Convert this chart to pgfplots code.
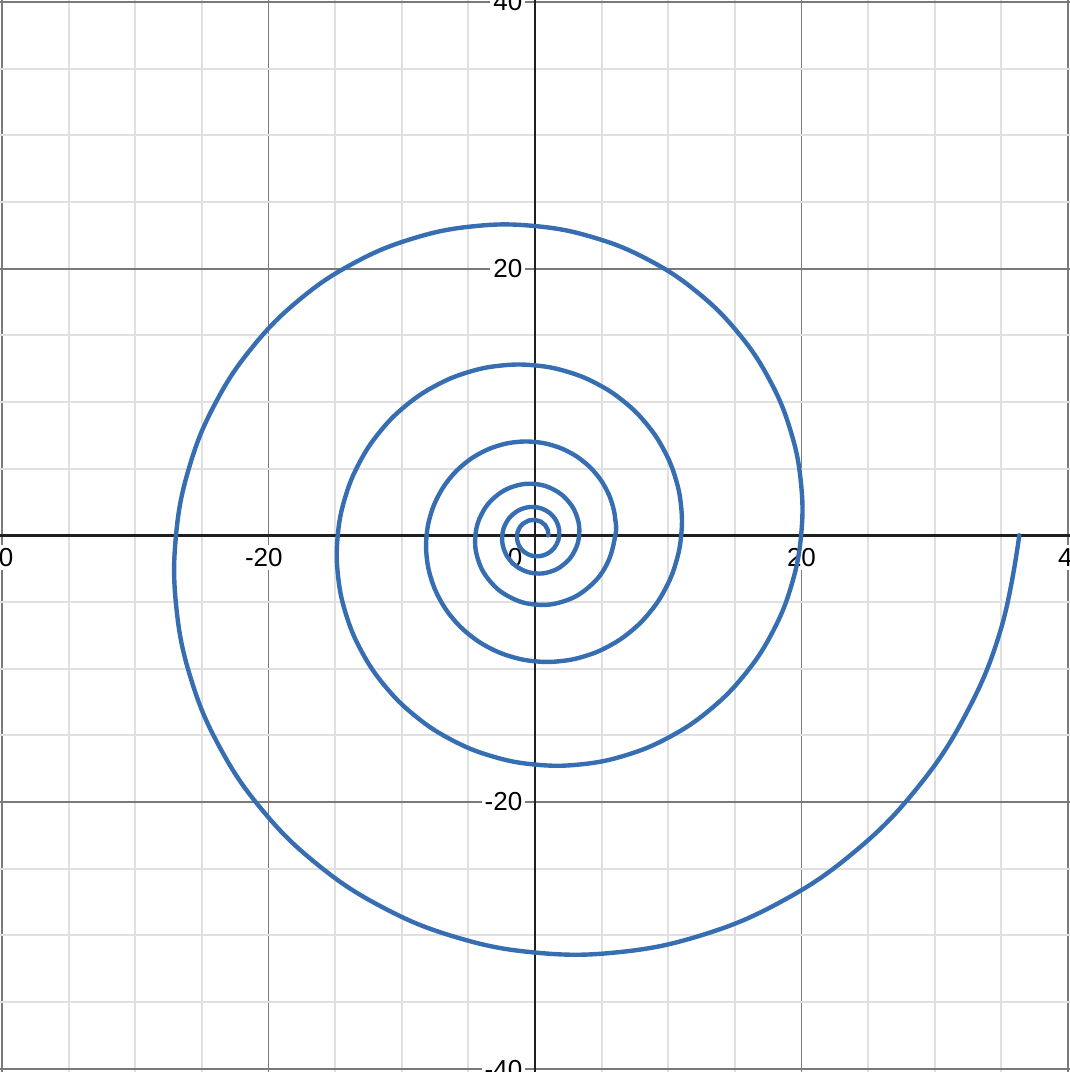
\documentclass[border=0pt]{standalone}
\usepackage{fontspec}
\setmainfont{Liberation Sans}
\usepackage{pgfplots}
\pgfplotsset{compat=1.18}
\definecolor{spiral}{RGB}{55,110,178}
\tikzset{lab/.style={fill=white, inner sep=1.5pt, font=\fontsize{13}{15}\selectfont}}
\begin{document}
\begin{tikzpicture}
\begin{axis}[
  scale only axis, width=535pt, height=536pt,
  xmin=-40.15, xmax=40.15, ymin=-40.25, ymax=40.15,
  axis lines=middle,
  axis line style={-, line width=1.4pt, black!88},
  xtick={-40,-20,0,20,40}, ytick={-40,-20,0,20,40},
  minor tick num=3,
  xticklabels={}, yticklabels={},
  major tick length=0pt, minor tick length=0pt,
  grid=both,
  major grid style={line width=0.9pt, black!52},
  minor grid style={line width=0.9pt, black!12},
  clip=false,
]
\coordinate (SW) at (rel axis cs:0,0);
\coordinate (NE) at (rel axis cs:1,1);
\node[lab, anchor=center] at (axis cs:-20.35,-1.65) {-20};
\node[lab, anchor=center] at (axis cs:20,-1.65) {20};
\node[lab, anchor=east] at (axis cs:-38.9,-1.65) {-40};
\node[lab, anchor=west] at (axis cs:39.0,-1.65) {40};
\node[lab, anchor=east] at (axis cs:-0.7,20) {20};
\node[lab, anchor=east] at (axis cs:-0.7,-20) {-20};
\node[lab, anchor=east] at (axis cs:-0.7,40.05) {40};
\node[lab, anchor=east] at (axis cs:-0.7,-40.05) {-40};
\node[lab, anchor=east] at (axis cs:-0.7,-1.65) {0};
\addplot[color=spiral, line width=2.2pt, line cap=round, line join=round, smooth, tension=0.7] coordinates {
(1,0) (0.959,0.397) (0.762,0.762) (0.428,1.034) (0,1.1615) (-0.461,1.114) (-0.885,0.885) (-1.201,0.497)
(-1.349,0) (-1.294,-0.536) (-1.028,-1.028) (-0.578,-1.395) (0,-1.567) (0.623,-1.503) (1.194,-1.194) (1.620,-0.671)
(1.820,0) (1.746,0.723) (1.387,1.387) (0.779,1.881) (0,2.114) (-0.840,2.028) (-1.611,1.611) (-2.185,0.905)
(-2.455,0) (-2.355,-0.975) (-1.871,-1.871) (-1.051,-2.538) (0,-2.852) (1.133,-2.735) (2.173,-2.173) (2.948,-1.221)
(3.312,0) (3.177,1.316) (2.524,2.524) (1.418,3.424) (0,3.847) (-1.528,3.690) (-2.932,2.932) (-3.977,1.647)
(-4.469,0) (-4.286,-1.775) (-3.406,-3.406) (-1.913,-4.619) (0,-5.190) (2.062,-4.978) (3.955,-3.955) (5.365,-2.222)
(6.029,0) (6.025,1.198) (5.782,2.395) (5.302,3.543) (4.594,4.594) (3.678,5.504) (2.581,6.232) (1.341,6.740)
(0,7.002) (-1.392,6.998) (-2.782,6.716) (-4.115,6.158) (-5.336,5.336) (-6.393,4.272) (-7.238,2.998) (-7.829,1.557)
(-8.133,0) (-8.128,-1.617) (-7.801,-3.231) (-7.153,-4.779) (-6.198,-6.198) (-4.962,-7.426) (-3.482,-8.407) (-1.809,-9.093)
(0,-9.447) (1.878,-9.440) (3.753,-9.060) (5.551,-8.308) (7.199,-7.199) (8.625,-5.763) (9.765,-4.045) (10.562,-2.101)
(10.972,0) (10.965,2.181) (10.524,4.359) (9.650,6.448) (8.362,8.362) (6.694,10.018) (4.698,11.342) (2.440,12.268)
(0,12.744) (-2.533,12.735) (-5.063,12.223) (-7.489,11.208) (-9.712,9.712) (-11.636,7.775) (-13.173,5.456) (-14.249,2.834)
(-14.802,0) (-14.792,-2.942) (-14.197,-5.881) (-13.018,-8.699) (-11.280,-11.280) (-9.030,-13.515) (-6.338,-15.301) (-3.292,-16.550)
(0,-17.193) (3.418,-17.181) (6.830,-16.490) (10.103,-15.121) (13.102,-13.102) (15.698,-10.489) (17.772,-7.361) (19.223,-3.824)
(19.970,0) (19.956,3.969) (19.153,7.933) (17.563,11.735) (15.218,15.218) (12.183,18.233) (8.550,20.642) (4.441,22.327)
(0,23.195) (-4.611,23.179) (-9.215,22.246) (-13.630,20.399) (-17.676,17.676) (-21.177,14.150) (-23.976,9.931) (-25.933,5.158)
(-26.941,0) (-26.922,-5.355) (-25.839,-10.703) (-23.694,-15.832) (-20.531,-20.531) (-16.436,-24.598) (-11.535,-27.847) (-5.991,-30.121)
(0,-31.291) (6.220,-31.270) (12.431,-30.012) (18.388,-27.520) (23.846,-23.846) (28.570,-19.090) (32.345,-13.397) (34.986,-6.959)
(36.345,0)
};
\end{axis}
\pgfresetboundingbox
\path[use as bounding box] (SW) rectangle (NE);
\end{tikzpicture}
\end{document}
